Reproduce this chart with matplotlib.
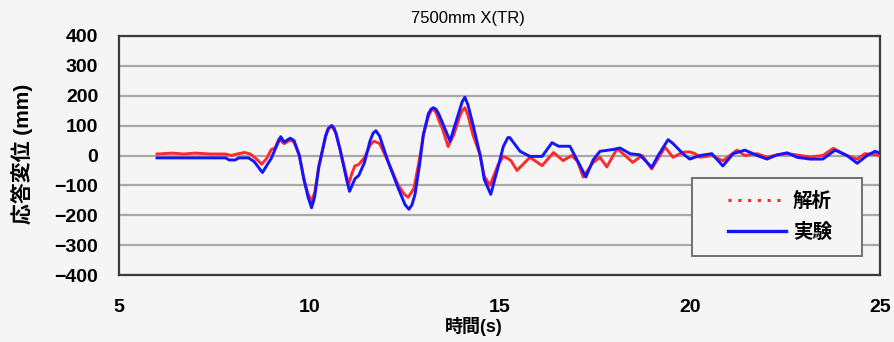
import matplotlib
matplotlib.use("Agg")
import matplotlib.pyplot as plt
from matplotlib.lines import Line2D
from matplotlib.patches import Rectangle

plt.rcParams['font.family'] = ['Liberation Sans', 'Noto Sans CJK JP', 'DejaVu Sans']

title = "7500mm X(TR)"
xlabel = "時間(s)"
ylabel = "応答変位 (mm)"
series_names = ["解析", "実験"]
xticks = [5, 10, 15, 20, 25]
yticks = [-400, -300, -200, -100, 0, 100, 200, 300, 400]

# 解析 (analysis) - red
t_analysis = [6.0, 6.4, 6.7, 7.0, 7.4, 7.8, 7.95, 8.1, 8.3, 8.45, 8.6, 8.75, 8.88, 9.0, 9.1,
              9.2, 9.34, 9.5, 9.6, 9.74, 9.86, 9.96, 10.06, 10.15, 10.25, 10.43, 10.5, 10.59,
              10.7, 10.81, 10.98, 11.04, 11.12, 11.2, 11.3, 11.45, 11.6, 11.7, 11.85, 12.07,
              12.34, 12.5, 12.6, 12.75, 12.9, 13.0, 13.13, 13.2, 13.26, 13.33, 13.4, 13.5,
              13.65, 13.8, 13.95, 14.02, 14.09, 14.17, 14.3, 14.49, 14.6, 14.75, 14.96, 15.1,
              15.22, 15.3, 15.46, 15.8, 16.12, 16.42, 16.67, 16.9, 17.05, 17.2, 17.45, 17.64,
              17.82, 18.09, 18.3, 18.5, 18.75, 19.0, 19.35, 19.56, 19.82, 20.0, 20.14, 20.27,
              20.58, 20.87, 21.24, 21.45, 21.77, 22.03, 22.29, 22.56, 22.9, 23.16, 23.5, 23.77,
              24.13, 24.4, 24.6, 24.87, 25.0]
v_analysis = [5, 8, 5, 8, 5, 5, 0, 5, 10, 5, -10, -29, -10, 20, 25,
              55, 40, 52, 45, 0, -80, -125, -155, -120, -35, 65, 90, 100,
              75, 20, -70, -95, -60, -35, -30, -8, 35, 48, 40, -20,
              -100, -130, -140, -110, -10, 70, 130, 150, 155, 145, 120, 90,
              30, 70, 130, 150, 160, 135, 70, 2, -70, -100, -32, -3,
              -10, -17, -50, -6, -34, 10, -17, 0, -20, -72, -25, -6,
              -38, 23, 0, -23, 0, -45, 28, -6, 11, 12, 6, -6,
              0, -18, 18, 0, 6, -6, 2, 6, 0, -5, 0, 24,
              0, -12, 6, 3, 0]

# 実験 (experiment) - blue
t_experiment = [6.0, 7.8, 7.9, 8.05, 8.15, 8.4, 8.55, 8.77, 8.9, 9.0, 9.1, 9.25, 9.34, 9.5,
                9.6, 9.74, 9.86, 9.97, 10.06, 10.14, 10.25, 10.43, 10.5, 10.59, 10.65, 10.7,
                10.81, 10.98, 11.06, 11.2, 11.3, 11.45, 11.6, 11.68, 11.75, 11.85, 12.07, 12.34,
                12.52, 12.62, 12.7, 12.78, 12.9, 13.0, 13.13, 13.2, 13.26, 13.33, 13.4, 13.5,
                13.7, 13.85, 14.02, 14.09, 14.17, 14.3, 14.49, 14.6, 14.77, 14.96, 15.1,
                15.22, 15.27, 15.54, 15.8, 16.12, 16.38, 16.55, 16.85, 17.06, 17.27, 17.46,
                17.64, 17.98, 18.17, 18.43, 18.69, 19.0, 19.17, 19.43, 19.56, 19.82, 20.0,
                20.27, 20.58, 20.87, 21.14, 21.45, 21.77, 22.03, 22.29, 22.56, 22.82, 23.16,
                23.5, 23.82, 24.13, 24.4, 24.66, 24.87, 25.0]
v_experiment = [-8, -8, -15, -15, -8, -8, -20, -57, -30, -10, 20, 63, 45, 58,
                50, 0, -80, -140, -175, -140, -40, 65, 90, 100, 92, 75,
                20, -80, -120, -78, -67, -24, 50, 75, 83, 65, -20, -110,
                -165, -180, -165, -130, -30, 70, 140, 155, 160, 155, 140, 110,
                48, 110, 180, 195, 170, 105, 2, -80, -130, -40, 30,
                60, 60, 14, -3, -3, 43, 31, 31, -20, -72, -15,
                14, 20, 25, 6, 2, -40, 0, 53, 40, 6, -12,
                0, 6, -35, 6, 18, 0, -12, 2, 9, -6, -12,
                -12, 18, 0, -26, 0, 14, 8]

bg = '#f5f5f5'
fig = plt.figure(figsize=(8.94, 3.42), dpi=100, facecolor=bg)
ax = fig.add_axes([119/894, 1-275/342, (880-119)/894, (275-36)/342], facecolor=bg)

red = '#ff2a2a'
blue = '#1414ff'
ax.plot(t_analysis, v_analysis, color=red, lw=2.1, zorder=3, solid_joinstyle='round')
ax.plot(t_experiment, v_experiment, color=blue, lw=2.1, zorder=4, solid_joinstyle='round')

ax.set_xlim(5, 25)
ax.set_ylim(-400, 400)
ax.set_xticks(xticks)
ax.set_yticks(yticks)
ax.yaxis.grid(True, color='#a8a8a8', lw=1.6)
ax.set_axisbelow(True)
for s in ax.spines.values():
    s.set_color('#3a3a3a')
    s.set_linewidth(1.6)
ax.tick_params(length=0)
ax.tick_params(axis='x', pad=17, labelsize=14)
ax.tick_params(axis='y', pad=15, labelsize=14)
for lab in ax.get_xticklabels() + ax.get_yticklabels():
    lab.set_fontweight('bold')

fig.text(468/894, 1-19/342, title, ha='center', va='center', fontsize=12)
fig.text(474/894, 1-326/342, xlabel, ha='center', va='center', fontsize=13, fontweight='bold')
fig.text(22/894, 1-154/342, ylabel, ha='center', va='center', fontsize=15,
         fontweight='bold', rotation=90)

# legend box
bx, by, bw, bh = 0.753, 0.0795, 0.223, 0.327
ax.add_patch(Rectangle((bx, by), bw, bh, transform=ax.transAxes, facecolor=bg,
                       edgecolor='#707070', lw=1.4, zorder=5))
handles = [Line2D([], [], color=red, lw=2.2, ls=(0, (1, 2.2))),
           Line2D([], [], color=blue, lw=2.4)]
leg = ax.legend(handles, series_names, loc='center',
                bbox_to_anchor=(bx + bw / 2 + 0.004, by + bh / 2),
                frameon=False, handlelength=3.0, handletextpad=0.35,
                prop={'family': ['Noto Sans CJK JP'], 'weight': 'bold', 'size': 14},
                borderpad=0.0, labelspacing=0.6, borderaxespad=0)
leg.set_zorder(6)

fig.savefig('out.png', dpi=100, facecolor=bg)
